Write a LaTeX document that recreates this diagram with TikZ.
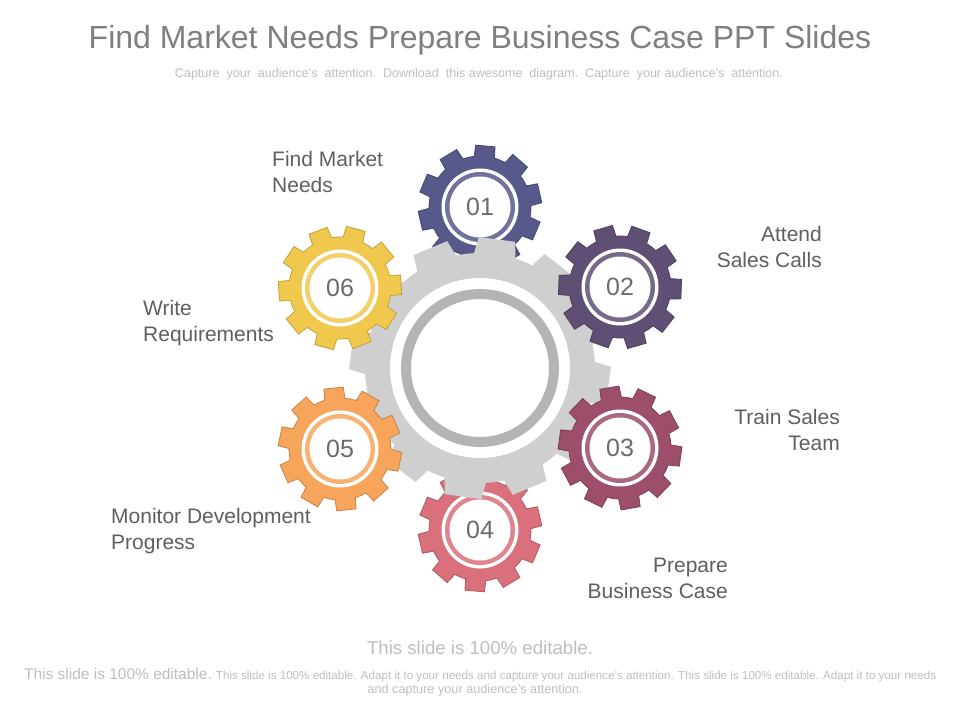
\documentclass[tikz,border=0pt]{standalone}
\usepackage{fontspec}
\setmainfont{Liberation Sans}
\usepackage{graphicx}
\definecolor{gA}{HTML}{56598A}
\definecolor{gB}{HTML}{5F4F75}
\definecolor{gC}{HTML}{9C4E6B}
\definecolor{gD}{HTML}{D9707C}
\definecolor{gE}{HTML}{F6A55B}
\definecolor{gF}{HTML}{F1C84E}
\definecolor{biggray}{HTML}{CFCFCF}
\definecolor{ringgray}{HTML}{B4B4B4}
\definecolor{titlegray}{HTML}{7F7F7F}
\definecolor{labgray}{HTML}{5F5F5F}
\definecolor{numgray}{HTML}{6B6B6B}
\definecolor{softgray}{HTML}{BFBFBF}
\newcommand\gearpath[6]{%
  ({#4-#5}:#2)
  \foreach \k in {1,...,#1}{
    -- ({#4+(\k-1)*360/#1-#5}:#2)
    -- ({#4+(\k-1)*360/#1-#6}:#3)
    -- ({#4+(\k-1)*360/#1+#6}:#3)
    -- ({#4+(\k-1)*360/#1+#5}:#2)
    arc[start angle={#4+(\k-1)*360/#1+#5}, end angle={#4+\k*360/#1-#5}, radius=#2pt]
  } -- cycle}
\newcommand\smallgear[6]{%
  \begin{scope}[shift={(#1,-#2)}]
    \filldraw[fill=#3, draw=#3!80!black, line width=0.8pt] \gearpath{10}{51}{62}{#4}{11.5}{9};
    \fill[white] (0,0) circle[radius=38.5pt];
    \fill[#3!85!white] (0,0) circle[radius=35pt];
    \fill[white] (0,0) circle[radius=30.5pt];
    \node[numtext] (#6) at (0,0) {#5};
  \end{scope}}
\tikzset{
  numtext/.style={inner sep=0pt, font=\fontsize{25}{30}\selectfont, text=numgray},
  lbl/.style={inner sep=0pt, font=\fontsize{21}{26}\selectfont, text=labgray},
  lblL/.style={lbl, align=left, anchor=base west},
  lblR/.style={lbl, align=right, anchor=base east},
}
\begin{document}
\begin{tikzpicture}[x=1pt,y=1pt]
\useasboundingbox (0,0) rectangle (960,-720);
\fill[white] (0,0) rectangle (960,-720);
% title and subtitle
\node[inner sep=0pt, anchor=base, text=titlegray, font=\fontsize{32}{38}\selectfont] (title) at (480,-48) {Find Market Needs Prepare Business Case PPT Slides};
\node[inner sep=0pt, anchor=base, text=softgray] (subtitle) at (479,-77) {\resizebox{608pt}{!}{\fontsize{12}{14}\selectfont Capture\ \ your\ \ audience's\ \ attention.\ \ Download\ \ this awesome\ \ diagram.\ \ Capture\ \ your audience's\ \ attention.}};
% gears behind the hub
\smallgear{480}{207}{gA}{85}{01}{n1}
\smallgear{480}{530}{gD}{-95}{04}{n4}
% central gear
\begin{scope}[shift={(480,-368)}]
  \fill[biggray] \gearpath{12}{115}{131}{82.5}{10.5}{8};
  \fill[white] (0,0) circle[radius=90pt];
  \draw[ringgray, line width=10pt] (0,0) circle[radius=74pt];
\end{scope}
% gears in front of the hub
\smallgear{620}{287}{gB}{70}{02}{n2}
\smallgear{620}{448}{gC}{100}{03}{n3}
\smallgear{340}{449}{gE}{60}{05}{n5}
\smallgear{340}{288}{gF}{75}{06}{n6}
% labels (base anchor = baseline of the last line)
\node[lblL] (l1) at (272,-192) {Find Market\\Needs};
\node[lblR] (l2) at (822,-267) {Attend\\Sales Calls};
\node[lblR] (l3) at (840,-450) {Train Sales\\Team};
\node[lblR] (l4) at (728,-598) {Prepare\\Business Case};
\node[lblL] (l5) at (111,-549) {Monitor Development\\Progress};
\node[lblL] (l6) at (143,-341) {Write\\Requirements};
% footer
\node[inner sep=0pt, anchor=base, text=softgray] (foot0) at (480,-654) {\resizebox{226pt}{!}{\fontsize{17}{20}\selectfont This slide is 100\% editable.}};
\node[inner sep=0pt, anchor=base west, text=softgray] (foot1) at (24,-679) {\resizebox{912pt}{!}{{\fontsize{14}{16}\selectfont This slide is 100\% editable.} {\fontsize{10.5}{12}\selectfont This slide is 100\% editable. Adapt it to your needs and capture your audience's attention. This slide is 100\% editable. Adapt it to your needs}}};
\node[inner sep=0pt, anchor=base, text=softgray] (foot2) at (475,-693) {\resizebox{215pt}{!}{\fontsize{10.5}{12}\selectfont and capture your audience's attention.}};
\end{tikzpicture}
\end{document}
